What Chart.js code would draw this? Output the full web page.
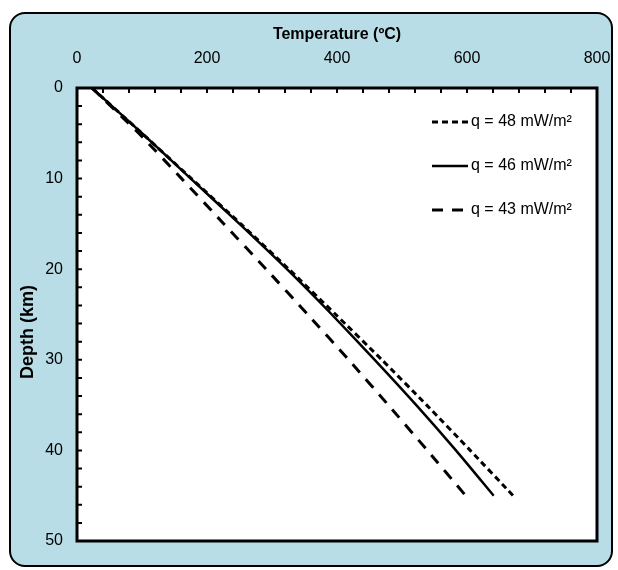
<!DOCTYPE html>
<html>
<head>
<meta charset="utf-8">
<script src="https://cdn.jsdelivr.net/npm/chart.js@4.4.1/dist/chart.umd.min.js"></script>
<style>
  html, body { margin: 0; padding: 0; background: #fff; }
  #frame { position: absolute; left: 9px; top: 12px; width: 600px; height: 551px;
           border: 2.5px solid #000; border-radius: 16px; background: #b8dde6; }
  #wrap { position: absolute; left: 0; top: 0; width: 618px; height: 570px; }
</style>
</head>
<body>
<div id="frame"></div>
<div id="wrap"><canvas id="geo" width="618" height="570"></canvas></div>
<script>
// Geotherms
const depths = [0, 5, 10, 15, 20, 25, 30, 35, 40, 45];          // km
const temp48 = [23, 100, 176, 252, 326, 398, 469, 538, 605, 671]; // degC
const temp46 = [23, 100, 175, 250, 323, 392, 458, 522, 583, 641];
const temp43 = [23, 95, 161, 226, 291, 355, 418, 479, 539, 598];

const seriesLabels = ['q = 48 mW/m²', 'q = 46 mW/m²', 'q = 43 mW/m²'];
const xTicks = [0, 200, 400, 600, 800];
const yTicks = [0, 10, 20, 30, 40, 50];

const FONT = "'Liberation Sans', Arial, sans-serif";
const toPoints = temps => temps.map((t, i) => ({ x: t, y: depths[i] }));

// white plot box, inward ticks, y title and legend
const frameBits = {
  id: 'frameBits',
  beforeDraw(chart) {
    const { ctx, chartArea: a } = chart;
    ctx.save();
    ctx.fillStyle = '#fff';
    ctx.fillRect(a.left, a.top, a.right - a.left, a.bottom - a.top);
    ctx.restore();
  },
  afterDraw(chart) {
    const { ctx, chartArea: a, scales: { x, y } } = chart;
    ctx.save();
    ctx.strokeStyle = '#000';
    ctx.lineWidth = 3;
    ctx.strokeRect(a.left, a.top, a.right - a.left, a.bottom - a.top);

    ctx.lineWidth = 2;
    ctx.beginPath();
    for (let t = 40; t < 800; t += 40) {
      const px = x.getPixelForValue(t);
      ctx.moveTo(px, a.top); ctx.lineTo(px, a.top + 5);
    }
    for (let d = 2; d < 50; d += 2) {
      const py = y.getPixelForValue(d);
      ctx.moveTo(a.left, py); ctx.lineTo(a.left + 5, py);
    }
    ctx.stroke();

    // y axis title
    ctx.translate(28, 332);
    ctx.rotate(-Math.PI / 2);
    ctx.fillStyle = '#000';
    ctx.font = 'bold 18px ' + FONT;
    ctx.textAlign = 'center';
    ctx.textBaseline = 'middle';
    ctx.fillText('Depth (km)', 0, 0);
    ctx.setTransform(1, 0, 0, 1, 0, 0);

    // legend inside plot
    ctx.font = '16px ' + FONT;
    ctx.textAlign = 'left';
    chart.data.datasets.forEach((ds, i) => {
      const ly = 122 + i * 44;
      ctx.setLineDash(ds.borderDash || []);
      ctx.lineWidth = ds.borderWidth;
      ctx.beginPath();
      ctx.moveTo(432, ly); ctx.lineTo(468, ly);
      ctx.stroke();
      ctx.setLineDash([]);
      ctx.fillText(ds.label, 471, ly);
    });
    ctx.restore();
  }
};

new Chart(document.getElementById('geo'), {
  type: 'scatter',
  data: {
    datasets: [
      { label: seriesLabels[0], data: toPoints(temp48), borderColor: '#000', borderWidth: 3, borderDash: [6, 4] },
      { label: seriesLabels[1], data: toPoints(temp46), borderColor: '#000', borderWidth: 2.5 },
      { label: seriesLabels[2], data: toPoints(temp43), borderColor: '#000', borderWidth: 3, borderDash: [11, 9] }
    ].map(d => Object.assign(d, { showLine: true, pointRadius: 0, tension: 0.2, fill: false }))
  },
  options: {
    responsive: false,
    animation: false,
    layout: { padding: { left: 0, top: 0, right: 21, bottom: 29 } },
    plugins: { legend: { display: false }, tooltip: { enabled: false } },
    scales: {
      x: {
        type: 'linear', position: 'top', min: 0, max: 800,
        afterBuildTicks: s => { s.ticks = xTicks.map(v => ({ value: v })); },
        afterFit: s => { s.height = 88; s.paddingLeft = 0; s.paddingRight = 0; },
        grid: { display: false, drawTicks: false },
        border: { display: false },
        ticks: { color: '#000', padding: 20, font: { family: FONT, size: 16 } },
        title: { display: true, text: 'Temperature (ºC)', color: '#000', padding: { top: 25, bottom: 0 },
                 font: { family: FONT, size: 16, weight: 'bold' } }
      },
      y: {
        type: 'linear', reverse: true, min: 0, max: 50,
        afterBuildTicks: s => { s.ticks = yTicks.map(v => ({ value: v })); },
        afterFit: s => { s.width = 77; s.paddingTop = 0; s.paddingBottom = 0; },
        grid: { display: false, drawTicks: false },
        border: { display: false },
        ticks: { color: '#000', padding: 14, font: { family: FONT, size: 16 } }
      }
    }
  },
  plugins: [frameBits]
});
</script>
</body>
</html>
